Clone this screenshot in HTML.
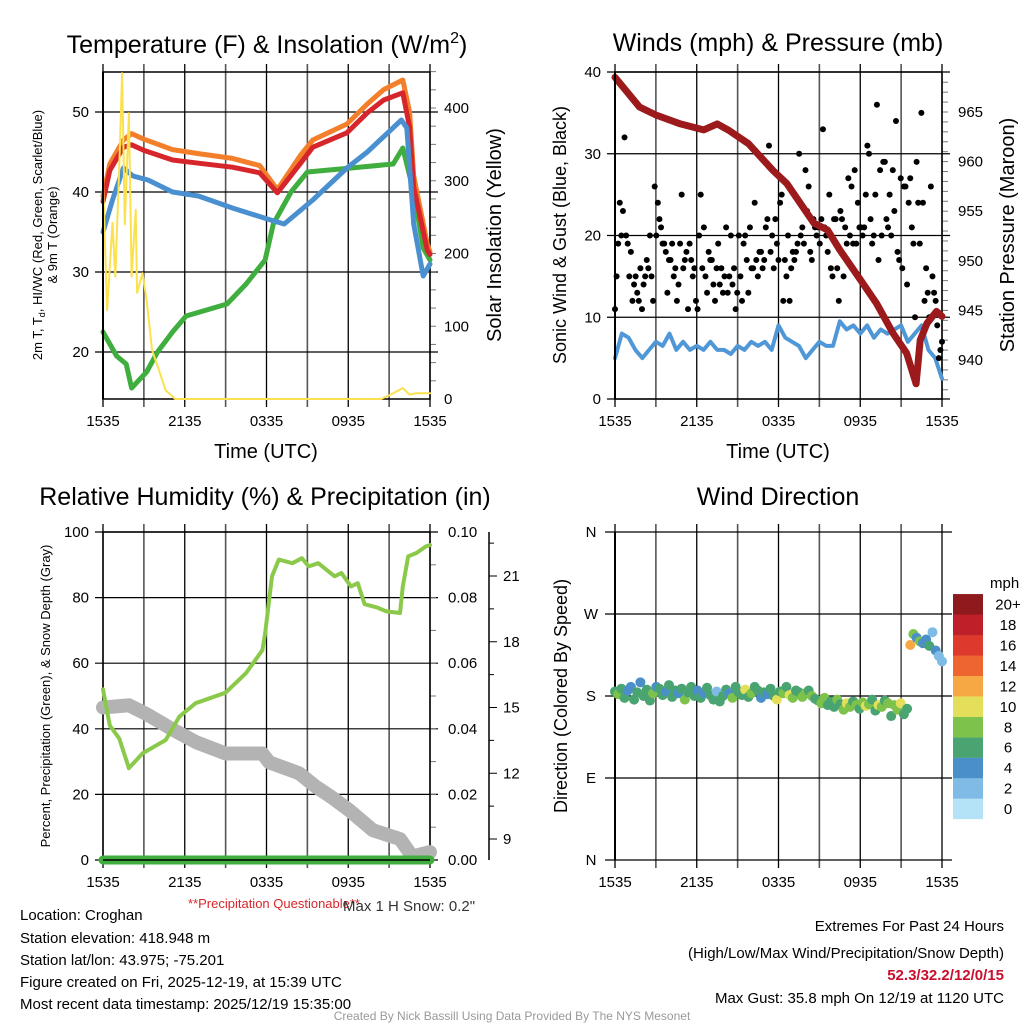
<!DOCTYPE html>
<html><head><meta charset="utf-8"><style>
body{margin:0;background:#fff;width:1024px;height:1024px;overflow:hidden;font-family:"Liberation Sans",sans-serif}
svg text{font-family:"Liberation Sans",sans-serif}
</style></head><body>
<svg id="s" width="1024" height="1024" viewBox="0 0 1024 1024">
<g id="g"></g>
<text x="267" y="53" font-size="25" text-anchor="middle">Temperature (F) &amp; Insolation (W/m<tspan dy="-10" font-size="16">2</tspan><tspan dy="10">)</tspan></text>
<text x="778" y="51" font-size="25" text-anchor="middle">Winds (mph) &amp; Pressure (mb)</text>
<text x="265" y="505" font-size="25" text-anchor="middle">Relative Humidity (%) &amp; Precipitation (in)</text>
<text x="778" y="505" font-size="25" text-anchor="middle">Wind Direction</text>
<text x="266" y="458" font-size="20" text-anchor="middle">Time (UTC)</text>
<text x="778" y="458" font-size="20" text-anchor="middle">Time (UTC)</text>
<text transform="translate(42,235) rotate(-90)" font-size="13" text-anchor="middle">2m T, T<tspan font-size="9" dy="3">d</tspan><tspan dy="-3">, HI/WC (Red, Green, Scarlet/Blue)</tspan></text>
<text transform="translate(57,235) rotate(-90)" font-size="13" text-anchor="middle">&amp; 9m T (Orange)</text>
<text transform="translate(501,235) rotate(-90)" font-size="20" text-anchor="middle">Solar Insolation (Yellow)</text>
<text transform="translate(566,235) rotate(-90)" font-size="18" text-anchor="middle">Sonic Wind &amp; Gust (Blue, Black)</text>
<text transform="translate(1014,235) rotate(-90)" font-size="20" text-anchor="middle">Station Pressure (Maroon)</text>
<text transform="translate(50,696) rotate(-90)" font-size="13" text-anchor="middle">Percent, Precipitation (Green), &amp; Snow Depth (Gray)</text>
<text transform="translate(567,696) rotate(-90)" font-size="18" text-anchor="middle">Direction (Colored By Speed)</text>
<text x="188" y="908" font-size="13" fill="#d7262b">**Precipitation Questionable**</text>
<text x="343" y="911" font-size="15" fill="#333">Max 1 H Snow: 0.2"</text>
<g font-size="15">
<text x="20" y="920">Location: Croghan</text>
<text x="20" y="943">Station elevation: 418.948 m</text>
<text x="20" y="965">Station lat/lon: 43.975; -75.201</text>
<text x="20" y="987">Figure created on Fri, 2025-12-19, at 15:39 UTC</text>
<text x="20" y="1009">Most recent data timestamp: 2025/12/19 15:35:00</text>
</g>
<g font-size="15" text-anchor="end">
<text x="1004" y="931">Extremes For Past 24 Hours</text>
<text x="1004" y="958">(High/Low/Max Wind/Precipitation/Snow Depth)</text>
<text x="1004" y="980" fill="#c8102e" font-weight="bold">52.3/32.2/12/0/15</text>
<text x="1004" y="1003">Max Gust: 35.8 mph On 12/19 at 1120 UTC</text>
</g>
<text x="512" y="1020" font-size="12" fill="#999" text-anchor="middle">Created By Nick Bassill Using Data Provided By The NYS Mesonet</text>
</svg>
<script>
const timeTicks=["1535","2135","0335","0935","1535"];
const tHours=[0,0.5,1.5,2.1,3,5.1,7,9.5,11.5,12.8,14.5,15.4,17.9,19.4,20.6,22,22.5,22.8,23.8,24];
const tempRed=[38.8,42.7,45.6,45.9,45.2,44,43.6,43.1,42.4,39.9,43.6,45.6,47.4,49.9,51.5,52.4,48.1,40.6,32.7,32.2];
const tempOrange=[39.5,43.5,46.5,47.3,46.6,45.3,44.8,44.2,43.3,40.3,44.6,46.5,48.5,51,52.8,54,50,42,33.5,32.5];
const bHours=[0,0.7,1.5,2.2,3.3,5.1,7,9.5,12.3,13.3,15.4,17.9,19.4,21.9,22.3,22.8,23.5,24];
const tempBlue=[35,39,43,42,41.5,40,39.5,38,36.5,36,39,43,45,49,48,36,29.5,31];
const gHours=[0,1,1.7,2.1,3.2,4,5.1,6.1,9.1,10.5,11.9,12.5,13.8,15,18.2,21.3,22,22.8,23.5,24];
const dewGreen=[22.5,19.5,18.5,15.5,17.5,20,22.5,24.5,26,28.5,31.5,36,40,42.5,43,43.5,45.5,40,33,31.5];
const sHours=[0,0.3,0.7,0.9,1.2,1.4,1.6,1.9,2.1,2.4,2.5,2.9,3.2,3.6,4.1,4.6,5.3,20.4,21,21.5,22,22.5,23,24];
const solar=[301,122,242,168,320,448,240,393,168,260,146,173,136,67,40,12,0,0,5,10,15,6,8,8];
const windBlue=[5,8,7.5,6,5,6,7,6.5,8,6,7,6,6.5,6,7,6,6,5.5,6.5,6,7,6.5,7,6,9,7.5,7,6.5,5,6,7,6.5,6.5,9.5,8.5,9,8,9,7.5,8.5,8,8.5,9,7,8,9,6,5,2.5];
const gusts=[11,15,19,24,20,23,32,20,19,15,18,12,14,15,13,12,16,11,14,15,17,16,20,15,12,26,20,24,22,21,19,19,18,13,17,17,19,15,16,12,14,19,25,16,17,18,11,19,17,15,16,12,11,20,25,16,21,15,13,18,17,17,14,12,16,19,14,16,13,15,21,13,15,20,14,16,11,13,20,15,12,19,20,17,13,21,16,16,24,17,15,18,18,16,17,21,22,31,18,20,16,22,19,17,24,25,12,17,15,20,12,16,18,17,18,19,30,20,21,19,28,23,26,18,17,22,21,20,21,19,22,33,21,20,18,25,16,15,22,22,16,12,23,22,15,21,19,27,20,26,19,28,19,24,21,21,20,21,25,31,30,22,19,20,25,36,17,28,20,29,29,22,21,25,20,28,23,34,18,17,27,16,26,26,14,24,27,21,19,10,29,24,19,35,24,12,16,13,10,26,15,13,12,9,5,6,7];
const pHours=[0,1.8,3,4.8,6.5,7.5,8.3,9.8,11.6,12.6,14.6,15.6,16.5,18,19.2,20.4,21.4,22.1,22.4,22.9,23.6,24];
const pressure=[968.5,965.5,964.7,963.8,963.2,963.8,963.2,961.8,959.1,957.8,953.8,953.1,951.1,948.1,945.7,942.7,940.7,937.6,942,943.7,944.9,944.4];
const rhHours=[0,0.5,1.2,1.9,2.9,4.6,5.6,6.8,9,10.5,11.7,11.9,12.4,12.9,13.9,14.6,15.1,15.8,17,17.5,18.2,18.7,19.2,20.1,20.8,21.8,22,22.4,23,23.7,24];
const rh=[52,41,37,28,32.5,36.6,43.7,47.8,51,57,64,69,86.5,91.6,90.5,92,89.5,90.5,86.5,87.5,83.4,84.4,78,77,75.8,75.3,83.4,92.6,93.6,95.6,96];
const snowHours=[0,1.9,3.2,5.1,6.9,9,11.7,12.2,14.4,15.6,16.8,18.1,19.8,21.8,22.7,24];
const snowDepth=[15,15.1,14.7,14,13.4,12.9,12.9,12.5,12,11.4,10.9,10.3,9.4,9,8.2,8.4];
const precip=[0,0];
const windDir=[185,182,188,178,186,190,176,184,195,180,187,175,183,190,188,181,185,192,179,186,183,188,176,184,190,180,186,178,183,189,181,176,185,174,180,187,183,178,190,184,181,187,179,183,190,186,178,184,182,188,180,176,185,183,190,181,178,186,184,179,183,186,180,177,175,172,178,170,174,168,176,171,165,172,168,174,170,166,173,169,171,176,164,170,168,175,172,158,170,165,172,160,166,236,248,244,240,238,242,235,250,230,224,218];
const windSpd=[6,8,7,6,4,5,6,6,4,7,6,6,8,4,6,7,5,6,7,6,4,6,8,7,6,6,5,7,4,6,6,7,3,6,6,7,4,8,6,6,7,10,7,8,6,7,4,6,5,7,7,10,6,8,7,10,8,7,6,8,9,7,8,6,7,8,9,6,7,6,8,7,8,10,8,7,9,7,8,10,8,7,6,10,8,7,9,6,8,8,10,7,6,13,9,5,8,4,5,6,3,4,2,2];
const speedBins=["0","2","4","6","8","10","12","14","16","18","20+"];
const speedColors=["#b4e3f7","#7fbbe4","#4a8fc7","#4aa471","#7dc24b","#e4df5a","#f5a844","#ee6530","#dd3a2d","#be1f28","#8e1a1d"];

const NS="http://www.w3.org/2000/svg",G=document.getElementById('g');
function el(t,a,p){const e=document.createElementNS(NS,t);for(const k in a)e.setAttribute(k,a[k]);(p||G).appendChild(e);return e;}
function lin(d0,d1,r0,r1){return v=>r0+(v-d0)*(r1-r0)/(d1-d0);}
function panel(name){
  const p=el('g',{});
  return p;
}
function xGrid(p,X,y0,y1){for(let h=0;h<=24;h+=3){const l=el('line',{x1:X(h),x2:X(h),y1:y0-8,y2:y1+8,stroke:h%6==0?'#000':'#555','stroke-width':h%6==0?1.3:1.6},p);}
 timeTicks.forEach((t,i)=>{const tx=el('text',{x:X(i*6),y:y1+27,'font-size':15,'text-anchor':'middle'},p);tx.textContent=t;});}
function hLine(p,x0,x1,y,ext){const l=el('line',{x1:x0-ext,x2:x1+ext,y1:y,y2:y,stroke:'#000','stroke-width':1.2},p);}
function lab(p,x,y,t,anchor,fs){const tx=el('text',{x:x,y:y+5,'font-size':fs||15,'text-anchor':anchor},p);tx.textContent=t;}
function line(p,hs,vs,X,Y,col,w,name){const pts=hs.map((h,i)=>X(h).toFixed(1)+','+Y(vs[i]).toFixed(1)).join(' ');const pl=el('polyline',{points:pts,fill:'none',stroke:col,'stroke-width':w,'stroke-linejoin':'round','stroke-linecap':'round'},p);}

// Panel 1: temperature
{const x0=103,x1=430,y0=72,y1=399;const X=lin(0,24,x0,x1),Y=lin(50,20,112,352),S=lin(0,400,399,108);
const p=panel('temperature-chart');
xGrid(p,X,y0,y1);
[20,30,40,50].forEach(v=>{hLine(p,x0,x1,Y(v),8);lab(p,x0-14,Y(v),String(v),'end');});
[0,100,200,300,400].forEach(v=>{lab(p,x1+14,S(v),String(v),'start');});
for(let v=25;v<=450;v+=25)el('line',{x1:x1,x2:x1+6,y1:S(v),y2:S(v),stroke:'#777'},p);
el('rect',{x:x0,y:y0,width:x1-x0,height:y1-y0,fill:'none',stroke:'#000','stroke-width':1.5},p);
line(p,gHours,dewGreen,X,Y,'#3fae3f',5,'dewpoint-line');
line(p,tHours,tempOrange,X,Y,'#f47f2a',5,'temp-9m-line');
line(p,tHours,tempRed,X,Y,'#d7262b',5,'temp-2m-line');
line(p,bHours,tempBlue,X,Y,'#4a90d0',5,'windchill-line');
line(p,sHours,solar,X,S,'#fbe14f',2,'solar-line');
el('line',{x1:x0,x2:x0,y1:y0,y2:y1,stroke:'#000','stroke-width':2},p);}

// Panel 2: winds
{const x0=615,x1=942,y0=72,y1=399;const X=lin(0,24,x0,x1),Y=lin(0,40,399,72),P=lin(940,965,360,112);
const p=panel('winds-chart');
xGrid(p,X,y0,y1);
[0,10,20,30,40].forEach(v=>{hLine(p,x0,x1,Y(v),8);lab(p,x0-14,Y(v),String(v),'end');});
[940,945,950,955,960,965].forEach(v=>lab(p,x1+16,P(v),String(v),'start'));
for(let v=937;v<=968;v++)el('line',{x1:x1,x2:x1+6,y1:P(v),y2:P(v),stroke:'#777'},p);
el('rect',{x:x0,y:y0,width:x1-x0,height:y1-y0,fill:'none',stroke:'#000','stroke-width':1.5},p);
line(p,windBlue.map((v,i)=>i*24/(windBlue.length-1)),windBlue,X,Y,'#4f97d6',4,'sustained-wind-line');
gusts.forEach((v,i)=>{const c=el('circle',{cx:X(i*24/(gusts.length-1)),cy:Y(v),r:3,fill:'#000'},p);});
line(p,pHours,pressure,X,P,'#9c1a1c',7,'pressure-line');
el('line',{x1:x0,x2:x0,y1:y0,y2:y1,stroke:'#000','stroke-width':2},p);}

// Panel 3: RH
{const x0=103,x1=430,y0=532,y1=860;const X=lin(0,24,x0,x1),Y=lin(0,100,860,532),D=lin(9,21,839,576);
const p=panel('humidity-chart');
xGrid(p,X,y0,y1);
[0,20,40,60,80,100].forEach(v=>{hLine(p,x0,x1,Y(v),8);lab(p,x0-14,Y(v),String(v),'end');lab(p,x1+18,Y(v),(v/1000).toFixed(2),'start');});
for(let v=10;v<100;v+=10)el('line',{x1:x1,x2:x1+6,y1:Y(v),y2:Y(v),stroke:'#777'},p);
el('line',{x1:489,x2:489,y1:532,y2:860,stroke:'#000','stroke-width':1.5},p);
[9,12,15,18,21].forEach(v=>{el('line',{x1:489,x2:497,y1:D(v),y2:D(v),stroke:'#000'},p);lab(p,503,D(v),String(v),'start');});
for(let v=10.5;v<=22.5;v+=3)el('line',{x1:489,x2:494,y1:D(v),y2:D(v),stroke:'#000'},p);
el('rect',{x:x0,y:y0,width:x1-x0,height:y1-y0,fill:'none',stroke:'#000','stroke-width':1.5},p);
line(p,snowHours,snowDepth,X,D,'#b3b3b3',14,'snow-depth-line');
line(p,rhHours,rh,X,Y,'#8bc94a',4,'rh-line');
line(p,[0,24],precip,X,v=>Y(v*1000),'#3fae3f',9,'precip-line');
el('line',{x1:x0,x2:x1,y1:y1,y2:y1,stroke:'#000','stroke-width':1.5},p);}

// Panel 4: wind dir
{const x0=615,x1=942,y0=532,y1=860;const X=lin(0,24,x0,x1),Y=lin(0,360,860,532);
const p=panel('wind-direction-chart');
xGrid(p,X,y0,y1);
[['N',0],['E',90],['S',180],['W',270],['N',360]].forEach(a=>{hLine(p,x0,x1,Y(a[1]),10);lab(p,x0-24,Y(a[1]),a[0],'middle');});
el('line',{x1:x0,x2:x0,y1:y0,y2:y1,stroke:'#000','stroke-width':2},p);
windDir.forEach((d,i)=>{const b=Math.min(10,Math.floor(windSpd[i]/2));const c=el('circle',{cx:X(i*24/(windDir.length-1)),cy:Y(d),r:5,fill:speedColors[b]},p);});
const lg=el('g',{},p);
const tt=el('text',{x:990,y:588,'font-size':15},lg);tt.textContent='mph';
speedBins.forEach((s,i)=>{const yy=819-(i+1)*20.45;el('rect',{x:953,y:yy,width:30,height:20.6,fill:speedColors[i]},lg);const t=el('text',{x:1008,y:yy+15.5,'font-size':15,'text-anchor':'middle'},lg);t.textContent=s;});}
</script>
</body></html>
